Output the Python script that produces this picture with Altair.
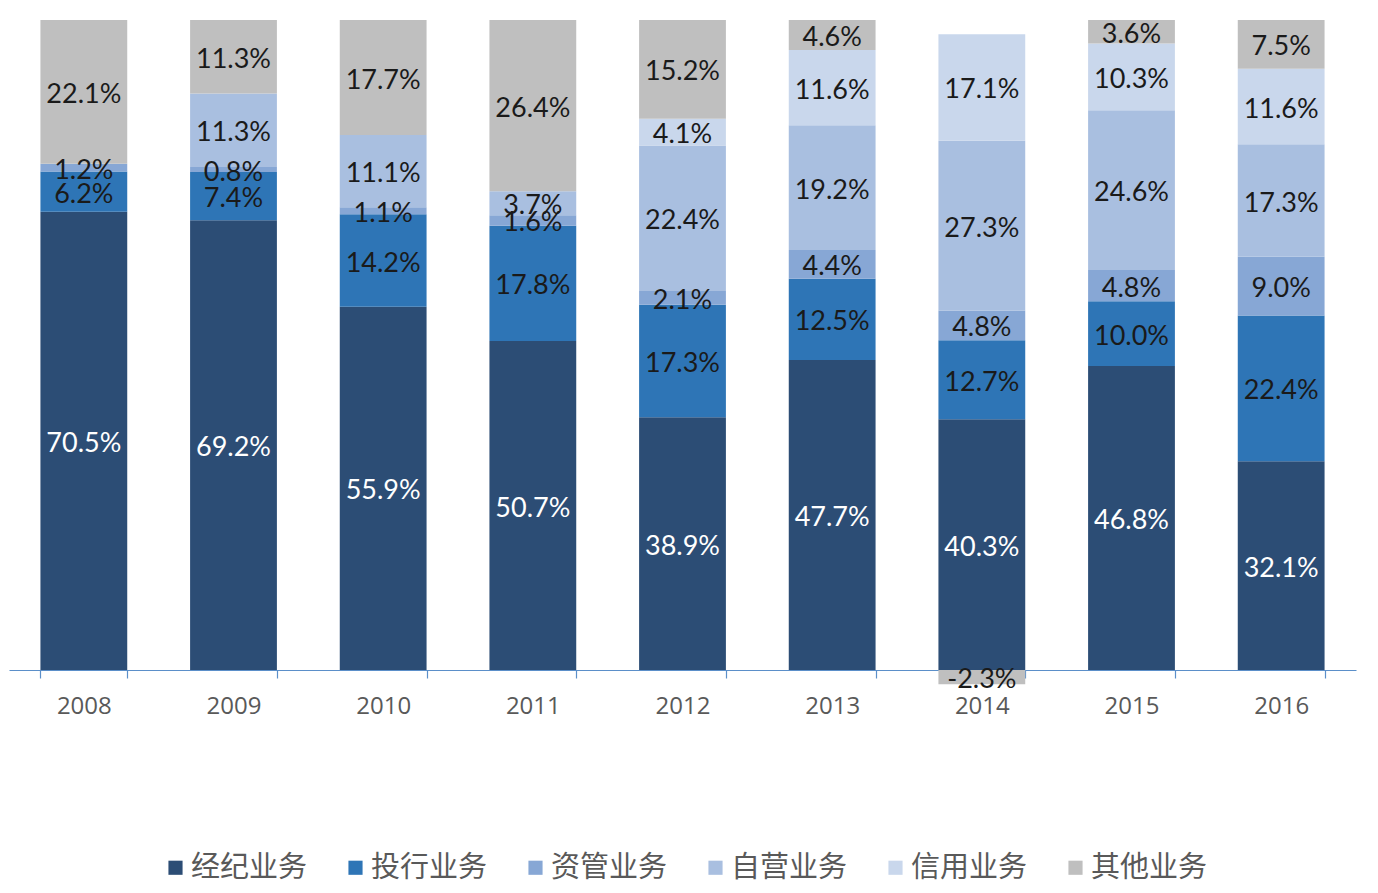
import altair as alt
import pandas as pd

years = ["2008", "2009", "2010", "2011", "2012", "2013", "2014", "2015", "2016"]
series = ["经纪业务", "投行业务", "资管业务", "自营业务", "信用业务", "其他业务"]
colors = ["#2C4D75", "#2E75B6", "#87A7D5", "#A9BFE0", "#C9D7EC", "#BFBFBF"]

brokerage = [70.5, 69.2, 55.9, 50.7, 38.9, 47.7, 40.3, 46.8, 32.1]
ib        = [6.2, 7.4, 14.2, 17.8, 17.3, 12.5, 12.7, 10.0, 22.4]
am        = [1.2, 0.8, 1.1, 1.6, 2.1, 4.4, 4.8, 4.8, 9.0]
prop      = [None, 11.3, 11.1, 3.7, 22.4, 19.2, 27.3, 24.6, 17.3]
credit    = [None, None, None, None, 4.1, 11.6, 17.1, 10.3, 11.6]
other     = [22.1, 11.3, 17.7, 26.4, 15.2, 4.6, -2.3, 3.6, 7.5]

vals = [brokerage, ib, am, prop, credit, other]
rows = []
for si, (name, arr) in enumerate(zip(series, vals)):
    for yi, y in enumerate(years):
        v = arr[yi]
        if v is None:
            continue
        rows.append({"year": y, "series": name, "idx": si, "value": v,
                     "label": f"{v:.1f}%"})
df = pd.DataFrame(rows)

# 100% stacked: each bar is normalised by the sum of absolute shares
base = alt.Chart(df).transform_calculate(
    absval="abs(datum.value)"
).transform_joinaggregate(
    total="sum(absval)", groupby=["year"]
).transform_calculate(
    pct="datum.value / datum.total * 100"
).transform_stack(
    stack="pct", groupby=["year"], sort=[{"field": "idx", "order": "ascending"}],
    as_=["y0", "y1"]
).transform_calculate(mid="(datum.y0 + datum.y1) / 2")

x = alt.X("year:N", sort=years, title=None,
          scale=alt.Scale(paddingInner=0.42, paddingOuter=0.21),
          axis=alt.Axis(labelAngle=0, tickBand="extent", domainColor="#5B8FC9",
                        tickColor="#5B8FC9", tickSize=8, domainWidth=1.2, tickWidth=1.2,
                        labelFont="Open Sans", labelFontSize=24, labelColor="#595959",
                        labelPadding=16, grid=False))
yscale = alt.Scale(domain=[0, 100], nice=False, zero=False)

bars = base.mark_bar().encode(
    x=x,
    y=alt.Y("y0:Q", scale=yscale, axis=None),
    y2="y1:Q",
    color=alt.Color("series:N", sort=series,
                    scale=alt.Scale(domain=series, range=colors),
                    legend=alt.Legend(title=None, orient="none", direction="horizontal",
                                      columns=6, legendX=152, legendY=833,
                                      symbolType="square", symbolSize=200,
                                      symbolStrokeWidth=0, symbolOffset=0,
                                      labelFont="Noto Sans CJK SC", labelFontSize=29,
                                      labelColor="#595959", labelOffset=1,
                                      columnPadding=33, padding=0)),
)

labels = base.mark_text(font="Lato", fontSize=27, baseline="middle", dy=3).encode(
    x=alt.X("year:N", sort=years),
    y=alt.Y("mid:Q", scale=yscale),
    text="label:N",
    color=alt.condition(alt.datum.idx == 0, alt.value("#FFFFFF"), alt.value("#1A1A1A")),
)

chart = alt.layer(bars, labels).properties(
    width=1347, height=650,
    autosize=alt.AutoSizeParams(type="none"),
    padding={"left": 1, "top": 12, "right": 10, "bottom": 220},
).configure_view(stroke=None)

chart.save("out.html", embed_options={"renderer": "svg", "actions": False})
